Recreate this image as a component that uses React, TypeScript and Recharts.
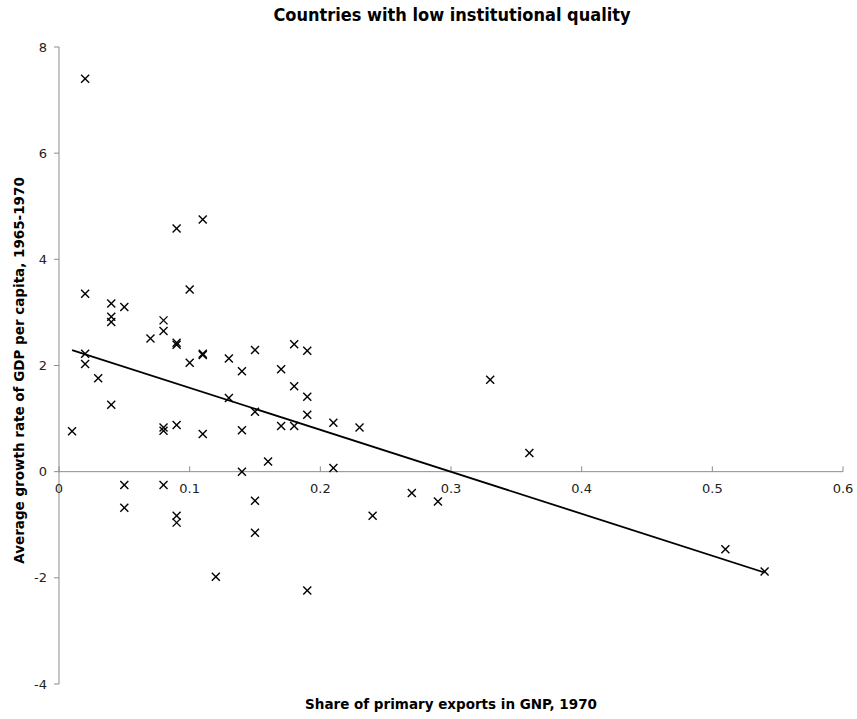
import React from "react";
import {
  ScatterChart,
  Scatter,
  XAxis,
  YAxis,
  ReferenceLine,
} from "recharts";

// share of primary exports in GNP, 1970
const shareX = [
  0.02, 0.02, 0.02, 0.02, 0.01, 0.03, 0.04, 0.04, 0.04, 0.04,
  0.05, 0.05, 0.05, 0.07, 0.08, 0.08, 0.08, 0.08, 0.08, 0.09,
  0.09, 0.09, 0.09, 0.09, 0.09, 0.1, 0.1, 0.11, 0.11, 0.11,
  0.11, 0.12, 0.13, 0.13, 0.14, 0.14, 0.14, 0.15, 0.15, 0.15,
  0.15, 0.16, 0.17, 0.17, 0.18, 0.18, 0.18, 0.19, 0.19, 0.19,
  0.19, 0.21, 0.21, 0.23, 0.24, 0.27, 0.29, 0.33, 0.36, 0.51,
  0.54,
];

// average growth rate of GDP per capita, 1965-1970
const growthY = [
  7.4, 3.35, 2.22, 2.03, 0.76, 1.76, 3.17, 2.92, 2.82, 1.26,
  3.1, -0.25, -0.68, 2.51, 2.85, 2.65, 0.83, 0.77, -0.25, 4.58,
  2.43, 2.39, 0.88, -0.83, -0.96, 3.43, 2.05, 4.75, 2.22, 2.2,
  0.71, -1.98, 2.13, 1.39, 1.89, 0.78, 0.0, 2.29, 1.13, -0.55,
  -1.15, 0.19, 1.93, 0.86, 2.4, 1.61, 0.86, 2.28, 1.41, 1.07,
  -2.24, 0.92, 0.07, 0.83, -0.83, -0.4, -0.56, 1.73, 0.35, -1.46,
  -1.88,
];

// linear trend endpoints
const trendX = [0.01, 0.54];
const trendY = [2.29, -1.9];

const xTicks = [0, 0.1, 0.2, 0.3, 0.4, 0.5, 0.6];
const yTicks = [-4, -2, 0, 2, 4, 6, 8];

const points = shareX.map((x, i) => ({ x, y: growthY[i] }));
const trend = trendX.map((x, i) => ({ x, y: trendY[i] }));

const FONT = "'DejaVu Sans', Verdana, sans-serif";
const AXIS = "#8c8c8c";

const Cross = (props: any) => {
  const { cx, cy } = props;
  if (cx == null || cy == null) return <g />;
  const r = 4;
  return (
    <g stroke="#000" strokeWidth={1.4}>
      <line x1={cx - r} y1={cy - r} x2={cx + r} y2={cy + r} />
      <line x1={cx - r} y1={cy + r} x2={cx + r} y2={cy - r} />
    </g>
  );
};

export default function App() {
  return (
    <div
      style={{
        position: "absolute",
        left: 0,
        top: 0,
        width: 857,
        height: 719,
        background: "#fff",
        fontFamily: FONT,
      }}
    >
      <div
        style={{
          position: "absolute",
          top: 4,
          left: 0,
          width: 904,
          textAlign: "center",
          fontFamily: "'DejaVu Sans Condensed', 'DejaVu Sans', sans-serif",
          fontWeight: "bold",
          fontSize: 18,
          color: "#000",
        }}
      >
        Countries with low institutional quality
      </div>
      <ScatterChart
        width={857}
        height={719}
        margin={{ top: 47, right: 14, bottom: 35, left: 14 }}
      >
        <XAxis
          type="number"
          dataKey="x"
          domain={[0, 0.6]}
          ticks={xTicks}
          hide
        />
        <YAxis
          type="number"
          dataKey="y"
          domain={[-4, 8]}
          ticks={yTicks}
          width={45}
          stroke={AXIS}
          tickSize={5}
          tickMargin={7}
          tick={{ fill: "#222", fontSize: 13, fontFamily: FONT }}
          label={{
            value: "Average growth rate of GDP per capita, 1965-1970",
            angle: -90,
            position: "center",
            dx: -17,
            dy: 5,
            style: {
              fontFamily: FONT,
              fontWeight: "bold",
              fontSize: 13.5,
              fill: "#000",
              textAnchor: "middle",
            },
          }}
        />
        <ReferenceLine y={0} stroke={AXIS} />
        {xTicks.map((t) => (
          <ReferenceLine
            key={t}
            segment={[
              { x: t, y: 0 },
              { x: t, y: 0.1 },
            ]}
            stroke={AXIS}
            label={{
              value: String(t),
              position: "bottom",
              offset: 12,
              style: { fontFamily: FONT, fontSize: 13, fill: "#222" },
            }}
          />
        ))}
        <Scatter
          data={points}
          shape={<Cross />}
          isAnimationActive={false}
        />
        <Scatter
          data={trend}
          line={{ stroke: "#000", strokeWidth: 1.8 }}
          shape={() => <g />}
          isAnimationActive={false}
        />
      </ScatterChart>
      <div
        style={{
          position: "absolute",
          top: 696,
          left: 0,
          width: 902,
          textAlign: "center",
          fontFamily: FONT,
          fontWeight: "bold",
          fontSize: 13.5,
          color: "#000",
        }}
      >
        Share of primary exports in GNP, 1970
      </div>
    </div>
  );
}
